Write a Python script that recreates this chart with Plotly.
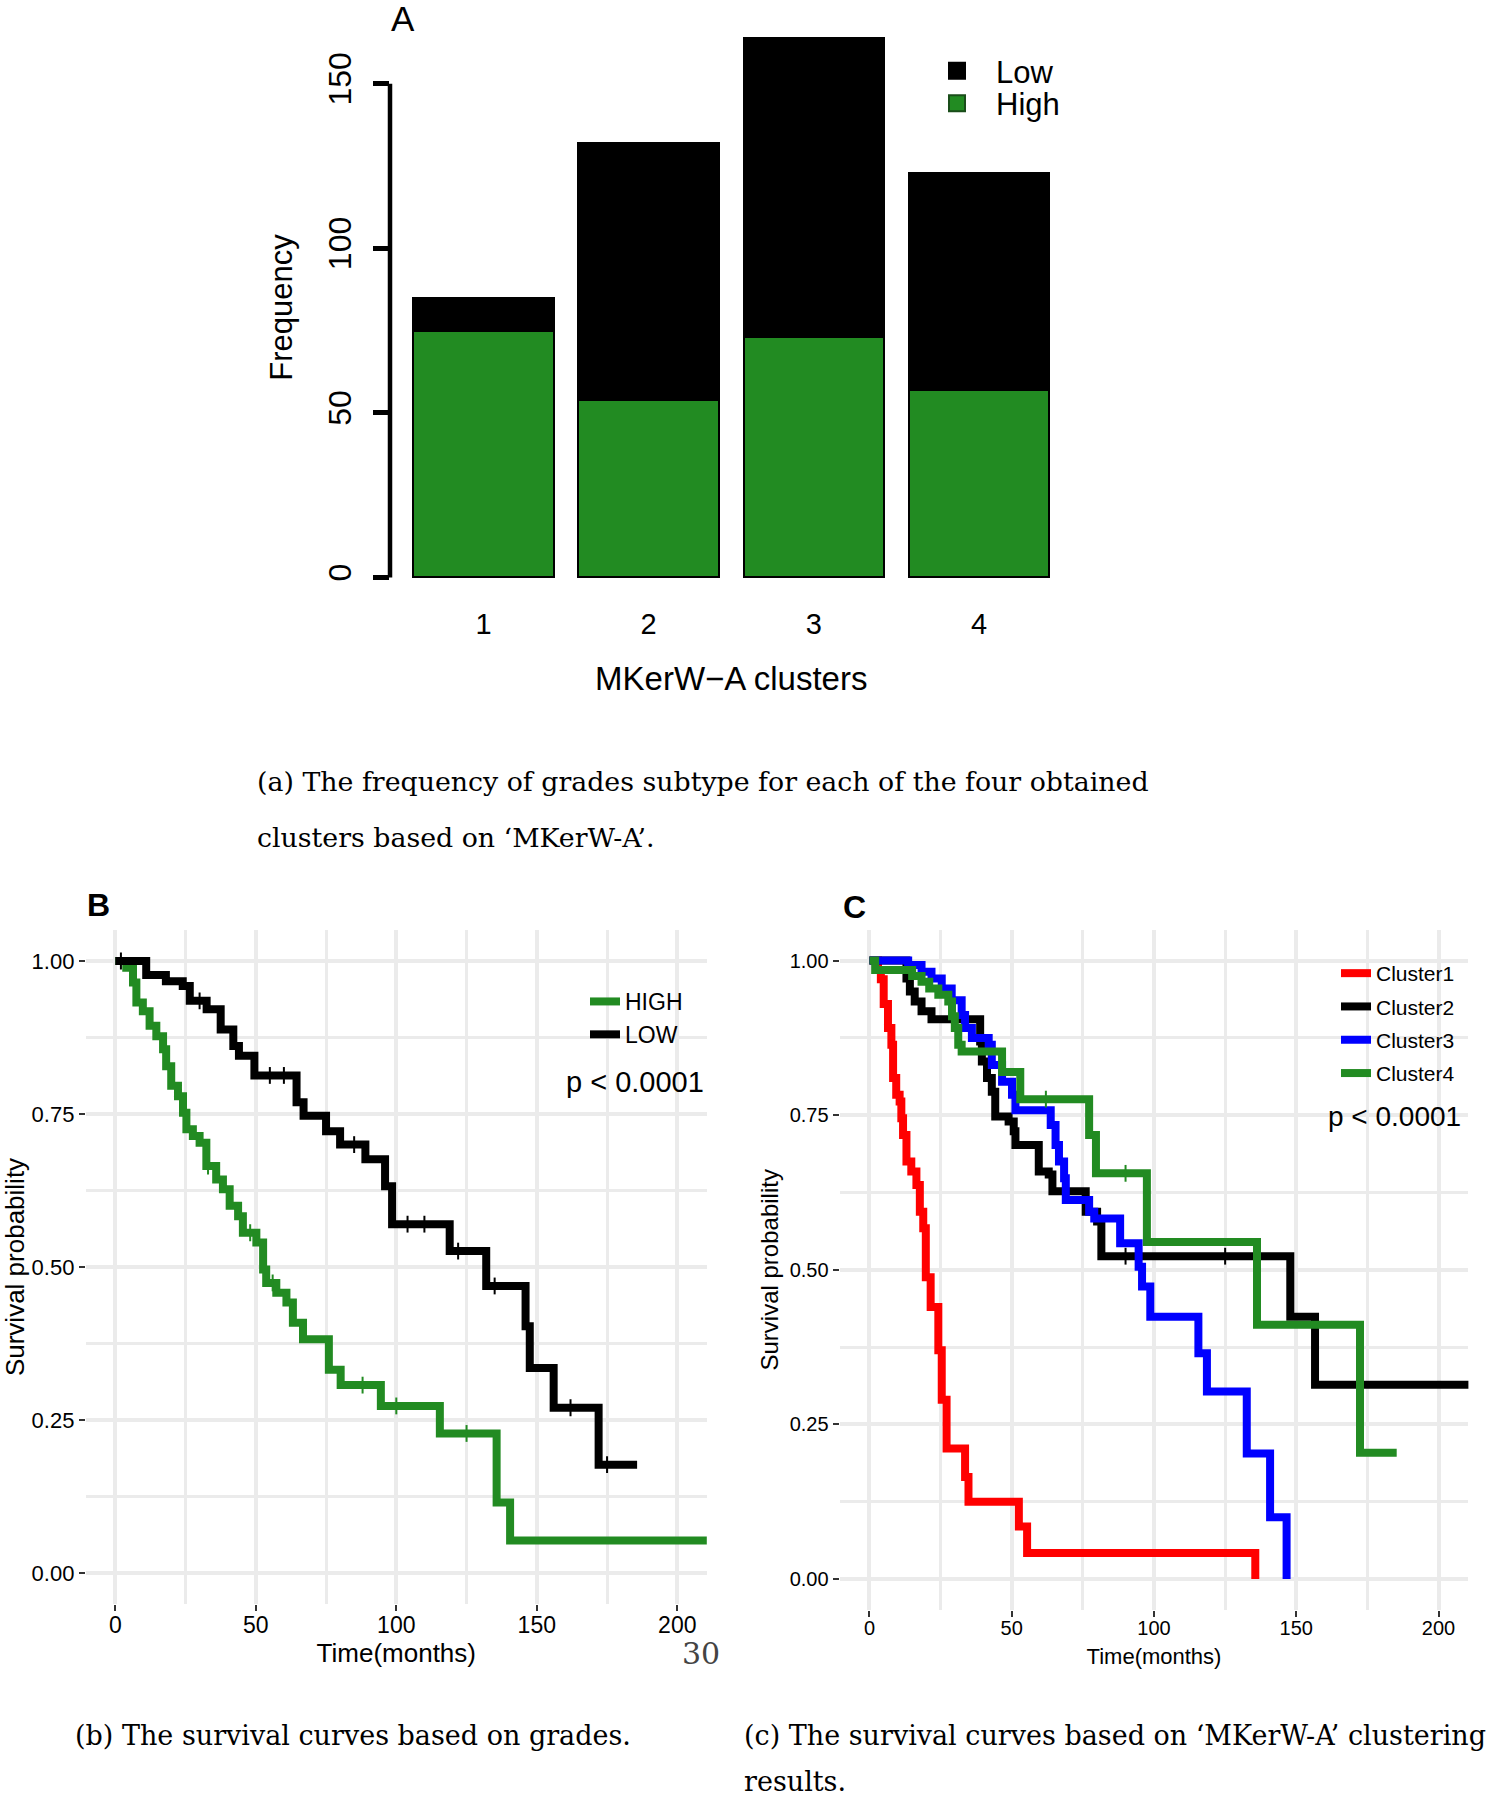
import numpy as np
import plotly.graph_objects as go

W, H = 1489, 1800

# ---------------- data ----------------
# Panel A: frequency of grade subtype per MKerW-A cluster
clusters = [1, 2, 3, 4]
high_counts = [75, 54, 73, 57]
low_counts = [10, 78, 91, 66]

# Panel B: Kaplan-Meier curves by grade (time in months, survival after each step)
low_time = [0, 11, 18, 24, 26.5, 32.5, 37.5, 42, 44, 49.5, 64.5, 67, 75, 80, 89, 96,
            98.5, 119, 132, 146, 147.5, 156, 172, 185.7]
low_surv = [1.0, 0.977, 0.967, 0.959, 0.935, 0.921, 0.888, 0.861, 0.845, 0.813, 0.769,
            0.747, 0.722, 0.700, 0.676, 0.632, 0.570, 0.526, 0.469, 0.403, 0.335, 0.270,
            0.177, 0.177]
high_time = [0, 3.9, 6.3, 7.5, 9.8, 12.2, 14.6, 17.0, 18.1, 19.9, 22.3, 24.1, 25.3, 27.6,
             30.0, 32.4, 35.9, 38.3, 40.7, 43.7, 45.4, 50.2, 52.6, 53.7, 57.3, 60.9, 63.2,
             66.8, 76.0, 80.2, 94.5, 115.5, 135.7, 140.5, 215]
high_surv = [1.0, 0.989, 0.965, 0.932, 0.918, 0.894, 0.877, 0.856, 0.828, 0.796, 0.779,
             0.752, 0.725, 0.714, 0.703, 0.665, 0.643, 0.627, 0.600, 0.583, 0.556, 0.540,
             0.496, 0.474, 0.458, 0.442, 0.409, 0.382, 0.332, 0.307, 0.273, 0.228, 0.115,
             0.053, 0.053]
low_censor = [2, 30, 55, 60, 85, 104, 110, 122, 135, 162, 175]
high_censor = [33, 48, 56, 88, 100, 125]

# Panel C: Kaplan-Meier curves by MKerW-A cluster
c1_time = [0, 3, 4, 5, 6.5, 7.7, 8.3, 9.4, 10.6, 11.2, 11.8, 13, 14.7, 16.5, 17.7, 18.9,
           19.8, 21.5, 24.2, 25.4, 27.1, 33.6, 34.8, 52.5, 55.4, 135.6]
c1_surv = [1.0, 0.985, 0.97, 0.93, 0.891, 0.864, 0.81, 0.783, 0.772, 0.745, 0.718, 0.675,
           0.659, 0.637, 0.594, 0.567, 0.488, 0.44, 0.37, 0.29, 0.211, 0.165, 0.125, 0.085,
           0.042, 0.0]
c2_time = [0, 13, 14.2, 15.9, 18.3, 21.8, 38.9, 39.5, 41.3, 43, 44.2, 48.9, 50.7, 51.3,
           59.5, 63, 64.3, 76, 80, 81.5, 147.9, 156.6, 215]
c2_surv = [1.0, 0.971, 0.95, 0.934, 0.918, 0.905, 0.869, 0.837, 0.81, 0.788, 0.748, 0.74,
           0.724, 0.702, 0.659, 0.654, 0.627, 0.594, 0.578, 0.522, 0.424, 0.314, 0.314]
c3_time = [0, 13.6, 18.3, 21.8, 25.4, 28.9, 32.4, 33.6, 36, 41.9, 43, 46.6, 50.1, 51.3,
           63.7, 65.4, 66.6, 68.4, 69, 77.2, 79, 88.1, 94.6, 95.8, 98.7, 115.6, 118.6,
           132.6, 140.8, 146.6]
c3_surv = [1.0, 0.993, 0.982, 0.971, 0.955, 0.936, 0.912, 0.891, 0.875, 0.864, 0.831,
           0.804, 0.783, 0.758, 0.734, 0.702, 0.675, 0.648, 0.613, 0.594, 0.583, 0.543,
           0.505, 0.473, 0.424, 0.365, 0.303, 0.203, 0.10, 0.0]
c4_time = [0, 2, 15, 18.3, 21, 24.2, 27.7, 29, 30, 31.2, 32.4, 46.6, 53, 77.2, 79.6, 97.5,
           136.2, 172.4, 185.3]
c4_surv = [1.0, 0.985, 0.975, 0.966, 0.955, 0.945, 0.934, 0.91, 0.891, 0.864, 0.853, 0.82,
           0.776, 0.718, 0.656, 0.545, 0.411, 0.204, 0.204]
c2_censor = [90, 125]
c4_censor = [62, 90]

# ---------------- styles ----------------
SANS = "Liberation Sans, Arial, Helvetica, sans-serif"
SERIF = "DejaVu Serif, Liberation Serif, serif"
GREEN = "#228B22"
GRID = "#EBEBEB"
LW = 8


def px(x):
    return x / W


def py(y):
    return 1 - y / H


def step_value(times, surv, t):
    idx = np.searchsorted(np.asarray(times), np.asarray(t), side="right") - 1
    return list(np.asarray(surv)[idx])


fig = go.Figure()

# ---- Panel A bars ----
fig.add_trace(go.Bar(x=clusters, y=high_counts, name="High", width=0.85, showlegend=False,
                     marker=dict(color=GREEN, line=dict(color="black", width=2)),
                     xaxis="x", yaxis="y"))
fig.add_trace(go.Bar(x=clusters, y=low_counts, name="Low", width=0.85, showlegend=False,
                     marker=dict(color="black", line=dict(color="black", width=2)),
                     xaxis="x", yaxis="y"))
# legend keys of panel A (one legend per key, as in the base-R legend)
fig.add_trace(go.Scatter(x=[None], y=[None], name="Low", mode="markers",
                         xaxis="x", yaxis="y", legend="legend",
                         marker=dict(symbol="square", size=20, color="black",
                                     line=dict(color="black", width=2))))
fig.add_trace(go.Scatter(x=[None], y=[None], name="High", mode="markers",
                         xaxis="x", yaxis="y", legend="legend4",
                         marker=dict(symbol="square", size=20, color=GREEN,
                                     line=dict(color="#1a4d1a", width=2))))

# ---- Panel B curves ----
for nm, t, s, col, cens in [("HIGH", high_time, high_surv, GREEN, high_censor),
                            ("LOW", low_time, low_surv, "black", low_censor)]:
    fig.add_trace(go.Scatter(x=t, y=s, mode="lines", name=nm,
                             line=dict(color=col, width=LW, shape="hv"),
                             xaxis="x2", yaxis="y2", legend="legend2"))
    fig.add_trace(go.Scatter(x=cens, y=step_value(t, s, cens), mode="markers",
                             marker=dict(symbol="line-ns", size=12,
                                         line=dict(color=col, width=2)),
                             showlegend=False, xaxis="x2", yaxis="y2", hoverinfo="skip"))

# ---- Panel C curves ----
for nm, t, s, col in [("Cluster1", c1_time, c1_surv, "#FF0000"),
                      ("Cluster2", c2_time, c2_surv, "black"),
                      ("Cluster3", c3_time, c3_surv, "#0000FF"),
                      ("Cluster4", c4_time, c4_surv, GREEN)]:
    fig.add_trace(go.Scatter(x=t, y=s, mode="lines", name=nm,
                             line=dict(color=col, width=LW, shape="hv"),
                             xaxis="x3", yaxis="y3", legend="legend3", legendgroup=nm))
for t, s, cens, col in [(c2_time, c2_surv, c2_censor, "black"),
                        (c4_time, c4_surv, c4_censor, GREEN)]:
    fig.add_trace(go.Scatter(x=cens, y=step_value(t, s, cens), mode="markers",
                             marker=dict(symbol="line-ns", size=12,
                                         line=dict(color=col, width=2)),
                             showlegend=False, xaxis="x3", yaxis="y3", hoverinfo="skip"))

# ---------------- axes ----------------
km_x = dict(range=[-10.5, 210.5], tick0=0, dtick=50, showgrid=True, gridcolor=GRID,
            gridwidth=4, zeroline=False, showline=False, ticks="outside", ticklen=6,
            tickwidth=2, tickcolor="#333333", automargin=False,
            minor=dict(tick0=0, dtick=25, showgrid=True, gridcolor=GRID, gridwidth=3,
                       ticks=""))
km_y = dict(range=[-0.05, 1.05], tick0=0, dtick=0.25, tickformat=".2f", showgrid=True,
            gridcolor=GRID, gridwidth=4, zeroline=False, showline=False, ticks="outside",
            ticklen=6, tickwidth=2, tickcolor="#333333", automargin=False,
            minor=dict(tick0=0, dtick=0.125, showgrid=True, gridcolor=GRID, gridwidth=3,
                       ticks=""))

clear = "rgba(0,0,0,0)"
fig.update_layout(
    width=W, height=H, margin=dict(l=0, r=0, t=0, b=0, autoexpand=False),
    paper_bgcolor="white", plot_bgcolor="white",
    font=dict(family=SANS, color="black"),
    barmode="stack", showlegend=True,
    xaxis=dict(domain=[px(390), px(1072.5)], range=[0.434, 4.566], anchor="y",
               tickvals=clusters, ticktext=[str(c) for c in clusters], automargin=False,
               showgrid=False, zeroline=False, showline=False, ticks="",
               ticklabelstandoff=5, tickfont=dict(size=29),
               title=dict(text="MKerW\u2212A clusters", font=dict(size=33), standoff=27)),
    yaxis=dict(domain=[py(599), py(16)], range=[-6.56, 170.56], anchor="x",
               tickvals=[0, 50, 100, 150], tickangle=-90, ticks="outside", ticklen=16,
               tickwidth=4.5, tickcolor="black", showgrid=False, zeroline=False,
               showline=False, ticklabelstandoff=9, tickfont=dict(size=32),
               automargin=False,
               title=dict(text="Frequency", font=dict(size=31), standoff=20)),
    xaxis2=dict(domain=[px(85.8), px(706.8)], anchor="y2", tickfont=dict(size=23),
                ticklabelstandoff=-5,
                title=dict(text="Time(months)", font=dict(size=26), standoff=6), **km_x),
    yaxis2=dict(domain=[py(1603.6), py(930.4)], anchor="x2", tickfont=dict(size=22),
                title=dict(text="Survival probability", font=dict(size=26), standoff=10),
                **km_y),
    xaxis3=dict(domain=[px(839.6), px(1468.4)], anchor="y3", tickfont=dict(size=20),
                ticklabelstandoff=-6,
                title=dict(text="Time(months)", font=dict(size=22), standoff=10), **km_x),
    yaxis3=dict(domain=[py(1609.9), py(929.7)], anchor="x3", tickfont=dict(size=20),
                title=dict(text="Survival probability", font=dict(size=24), standoff=4),
                **km_y),
    legend=dict(x=px(918), y=py(44), xanchor="left", yanchor="top",
                bgcolor=clear, font=dict(size=31), itemwidth=68),
    legend4=dict(x=px(918), y=py(76.5), xanchor="left", yanchor="top",
                 bgcolor=clear, font=dict(size=31), itemwidth=68),
    legend2=dict(x=px(585), y=py(980), xanchor="left", yanchor="top",
                 bgcolor=clear, font=dict(size=23), tracegroupgap=0),
    legend3=dict(x=px(1336), y=py(953), xanchor="left", yanchor="top",
                 bgcolor=clear, font=dict(size=21), tracegroupgap=3),
)

# y-axis line of panel A spans only the tick range (base R style)
fig.add_shape(type="line", xref="x domain", yref="y", x0=0, x1=0, y0=0, y1=150,
              line=dict(color="black", width=4.5))

annotations = [
    dict(text="A", x=px(403), y=py(19), font=dict(size=35)),
    dict(text="<b>B</b>", x=px(98.5), y=py(905), font=dict(size=32)),
    dict(text="<b>C</b>", x=px(854.5), y=py(907), font=dict(size=32)),
    dict(text="p < 0.0001", x=px(564), y=py(1082), xanchor="left", font=dict(size=29)),
    dict(text="p < 0.0001", x=px(1326), y=py(1116), xanchor="left", font=dict(size=28)),
    dict(text="(a) The frequency of grades subtype for each of the four obtained",
         x=px(255), y=py(781), xanchor="left", font=dict(family=SERIF, size=26.8)),
    dict(text="clusters based on \u2018MKerW-A\u2019.",
         x=px(255), y=py(837), xanchor="left", font=dict(family=SERIF, size=26.8)),
    dict(text="(b) The survival curves based on grades.",
         x=px(73), y=py(1735), xanchor="left", font=dict(family=SERIF, size=27)),
    dict(text="(c) The survival curves based on \u2018MKerW-A\u2019 clustering",
         x=px(742), y=py(1735), xanchor="left", font=dict(family=SERIF, size=27)),
    dict(text="results.", x=px(742), y=py(1781), xanchor="left",
         font=dict(family=SERIF, size=27)),
    dict(text="30", x=px(701), y=py(1653), font=dict(family=SERIF, size=30, color="#444444")),
]
for a in annotations:
    a.setdefault("xref", "paper")
    a.setdefault("yref", "paper")
    a.setdefault("showarrow", False)
    a.setdefault("xanchor", "center")
    a.setdefault("yanchor", "middle")
    fig.add_annotation(**a)

# let the figure fill the 1489x1800 window (no default body margin), no mode bar
fig.write_html("out.html", config={"displayModeBar": False},
               post_script="document.body.style.margin = '0px';")
